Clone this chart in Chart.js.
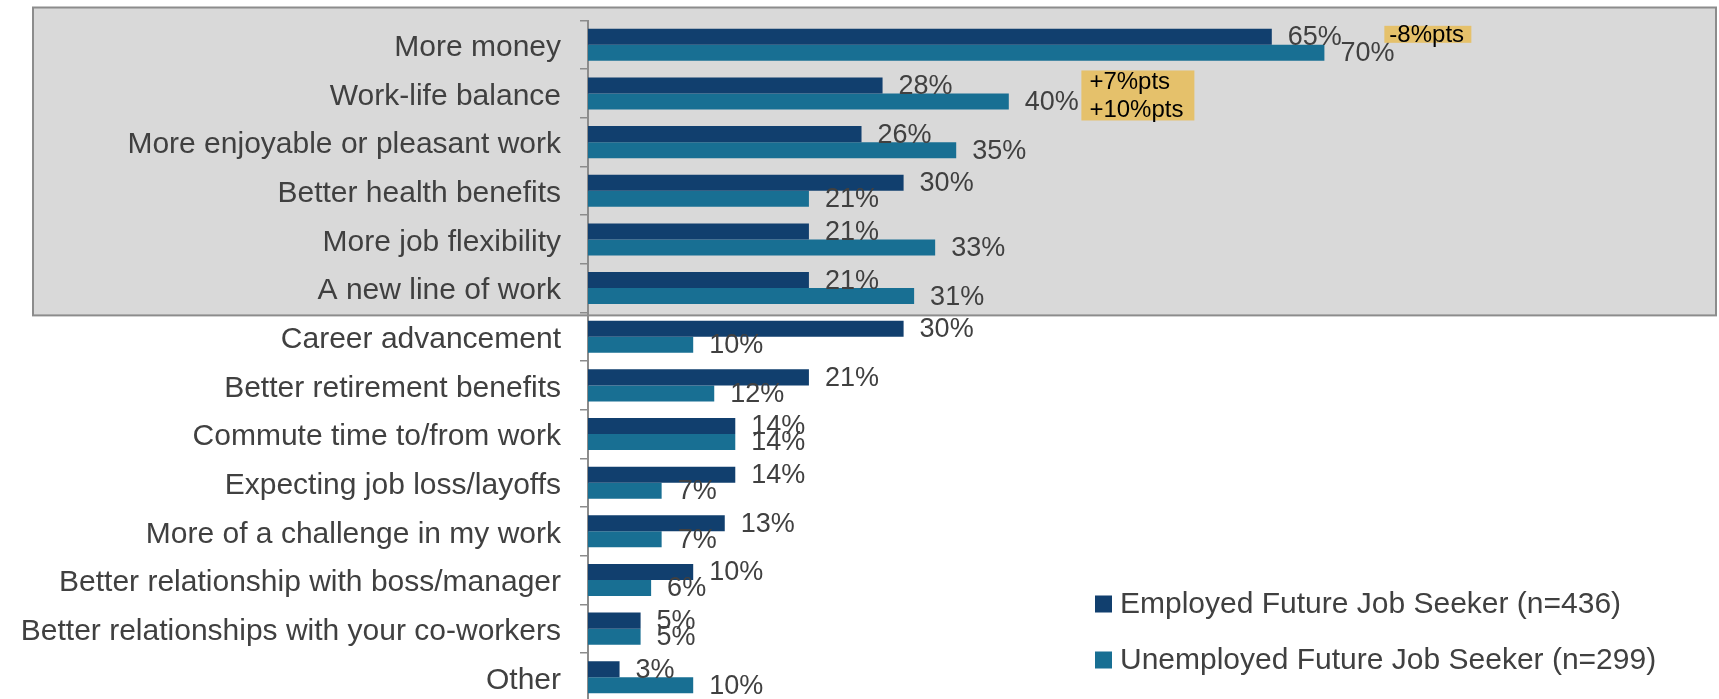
<!DOCTYPE html>
<html>
<head>
<meta charset="utf-8">
<script src="https://cdn.jsdelivr.net/npm/chart.js@4"></script>
<style>
  html, body { margin: 0; padding: 0; background: #ffffff; overflow: hidden; }
  #wrap { width: 1719px; height: 722px; position: relative; }
</style>
</head>
<body>
<div id="wrap"><canvas id="c" width="1719" height="722"></canvas></div>
<script>
const categories = [
  "More money",
  "Work-life balance",
  "More enjoyable or pleasant work",
  "Better health benefits",
  "More job flexibility",
  "A new line of work",
  "Career advancement",
  "Better retirement benefits",
  "Commute time to/from work",
  "Expecting job loss/layoffs",
  "More of a challenge in my work",
  "Better relationship with boss/manager",
  "Better relationships with your co-workers",
  "Other"
];
const employedLabel = "Employed Future Job Seeker (n=436)";
const unemployedLabel = "Unemployed Future Job Seeker (n=299)";
const employed   = [65, 28, 26, 30, 21, 21, 30, 21, 14, 14, 13, 10, 5, 3];
const unemployed = [70, 40, 35, 21, 33, 31, 10, 12, 14, 7, 7, 6, 5, 10];
const annotationTop = ["-8%pts"];
const annotationSecond = ["+7%pts", "+10%pts"];

const FONT = "'Liberation Sans', Arial, sans-serif";
const TEXT = "#404040";
const DARK = "#113f6e";
const LIGHT = "#186f93";

const boxPlugin = {
  id: 'grayBox',
  beforeDraw(chart) {
    const ctx = chart.ctx;
    const y = chart.scales.y;
    const top = y.top - 13;
    const bottom = (y.getPixelForValue(5) + y.getPixelForValue(6)) / 2 + 3;
    ctx.save();
    ctx.fillStyle = '#d9d9d9';
    ctx.fillRect(33, top, 1716 - 33, bottom - top);
    ctx.strokeStyle = '#8c8c8c';
    ctx.lineWidth = 2;
    ctx.strokeRect(33, top, 1716 - 33, bottom - top);
    ctx.restore();
  }
};

const labelPlugin = {
  id: 'valueLabels',
  afterDatasetsDraw(chart) {
    const ctx = chart.ctx;
    ctx.save();
    ctx.font = "27px " + FONT;
    ctx.fillStyle = TEXT;
    ctx.textAlign = 'left';
    ctx.textBaseline = 'middle';
    chart.data.datasets.forEach((ds, di) => {
      const meta = chart.getDatasetMeta(di);
      meta.data.forEach((bar, i) => {
        ctx.fillText(ds.data[i] + "%", bar.x + 16, bar.y + 1);
      });
    });
    ctx.restore();
  }
};

const notePlugin = {
  id: 'notes',
  afterDatasetsDraw(chart) {
    const ctx = chart.ctx;
    const x = chart.scales.x, y = chart.scales.y;
    ctx.save();
    ctx.font = "24px " + FONT;
    ctx.textBaseline = 'middle';
    ctx.textAlign = 'left';
    const x1 = x.getPixelForValue(75.7);
    const yc1 = y.getPixelForValue(0) - 10.5;
    const w1 = 87, h1 = 17;
    ctx.fillStyle = '#e5c16b';
    ctx.fillRect(x1, yc1 - h1 / 2, w1, h1);
    ctx.fillStyle = '#000000';
    ctx.fillText(annotationTop[0], x1 + 5, yc1 + 1);
    const x2 = x.getPixelForValue(46.9);
    const yc2 = y.getPixelForValue(1) + 2;
    const w2 = 113, h2 = 50;
    ctx.fillStyle = '#e5c16b';
    ctx.fillRect(x2, yc2 - h2 / 2, w2, h2);
    ctx.fillStyle = '#000000';
    ctx.fillText(annotationSecond[0], x2 + 8, yc2 - 13);
    ctx.fillText(annotationSecond[1], x2 + 8, yc2 + 15);
    ctx.restore();
  }
};

const legendPlugin = {
  id: 'customLegend',
  afterDraw(chart) {
    const ctx = chart.ctx;
    ctx.save();
    ctx.font = "30px " + FONT;
    ctx.textBaseline = 'middle';
    ctx.textAlign = 'left';
    chart.data.datasets.forEach((ds, i) => {
      const cy = 604 + i * 56;
      ctx.fillStyle = ds.backgroundColor;
      ctx.fillRect(1095, cy - 8.5, 17, 17);
      ctx.fillStyle = TEXT;
      ctx.fillText(ds.label, 1120, cy + 1);
    });
    ctx.restore();
  }
};

new Chart(document.getElementById('c'), {
  type: 'bar',
  data: {
    labels: categories,
    datasets: [
      { label: employedLabel, data: employed, backgroundColor: DARK, categoryPercentage: 0.658, barPercentage: 1.0 },
      { label: unemployedLabel, data: unemployed, backgroundColor: LIGHT, categoryPercentage: 0.658, barPercentage: 1.0 }
    ]
  },
  options: {
    indexAxis: 'y',
    responsive: false,
    animation: false,
    devicePixelRatio: 1,
    layout: { padding: { left: 0, right: 79, top: 20.5, bottom: 20.4 } },
    plugins: {
      legend: { display: false },
      tooltip: { enabled: false }
    },
    scales: {
      x: {
        display: false,
        min: 0,
        max: 100
      },
      y: {
        afterFit(scale) { scale.width = 588; },
        grid: {
          display: true,
          drawOnChartArea: false,
          drawTicks: true,
          tickLength: 8,
          color: '#8c8c8c',
          lineWidth: 1.5,
          offset: true
        },
        border: { display: true, color: '#8c8c8c', width: 2 },
        ticks: {
          color: TEXT,
          padding: 19,
          labelOffset: 3,
          font: { family: FONT, size: 30, lineHeight: 0.05 },
          autoSkip: false
        }
      }
    }
  },
  plugins: [boxPlugin, labelPlugin, notePlugin, legendPlugin]
});
</script>
</body>
</html>
